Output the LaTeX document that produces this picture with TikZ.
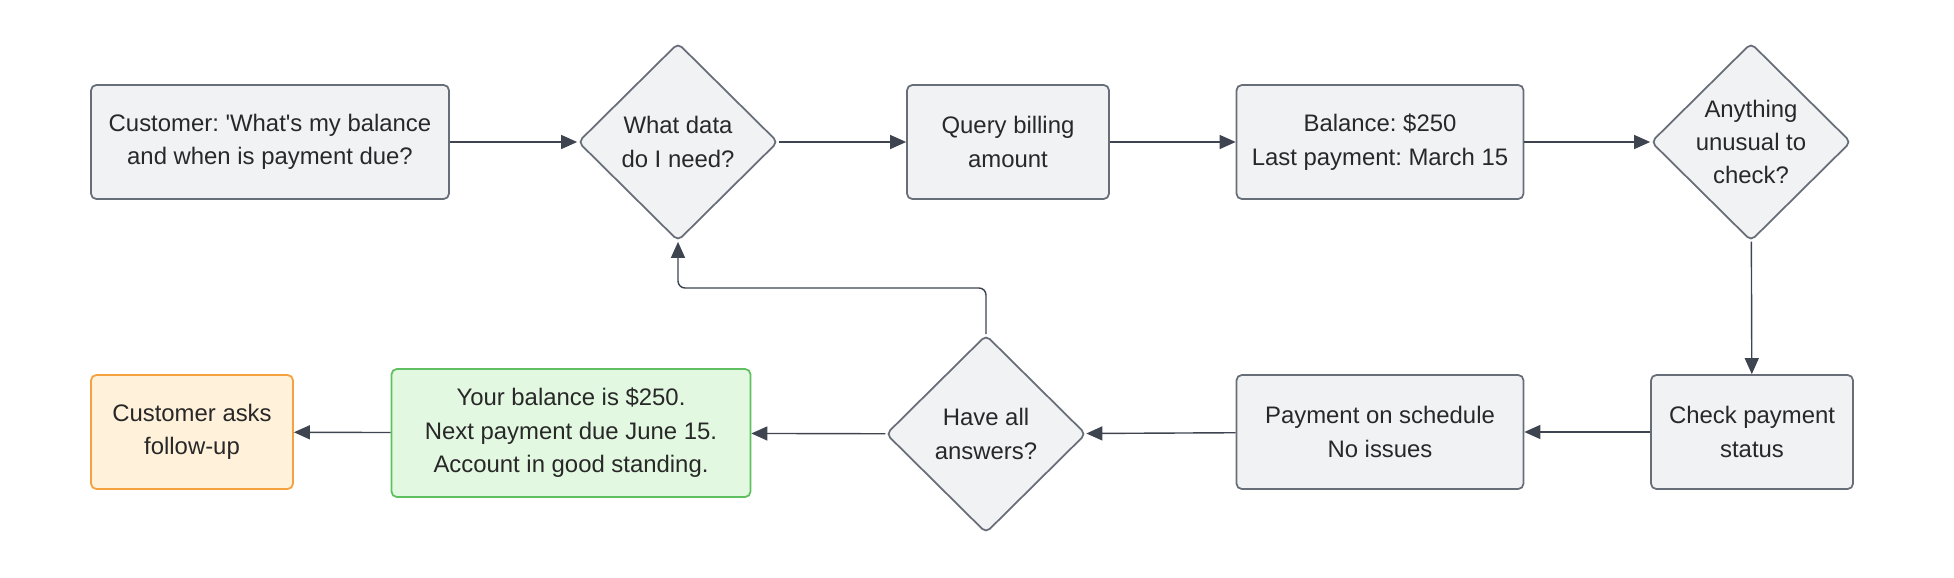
\documentclass[tikz,border=0pt]{standalone}
\usepackage{fontspec}
\usetikzlibrary{arrows.meta,positioning,shapes.geometric,calc}
\newfontfamily\diagfont{Liberation Sans}
\frenchspacing
\definecolor{boxgray}{RGB}{241,242,244}
\definecolor{boxgrayD}{RGB}{104,110,120}
\definecolor{arrowD}{RGB}{62,68,80}
\definecolor{ansgreen}{RGB}{226,248,224}
\definecolor{ansgreenD}{RGB}{94,192,94}
\definecolor{fuporange}{RGB}{255,241,218}
\definecolor{fuporangeD}{RGB}{246,160,62}
\definecolor{txtgray}{RGB}{40,40,40}
\tikzset{
  blk/.style={draw,rounded corners=3pt,align=center,inner sep=4pt,
              minimum height=2.28cm,font=\diagfont\fontsize{13.6}{19}\selectfont,
              text=txtgray,line width=1pt},
  proc/.style={blk,fill=boxgray,draw=boxgrayD},
  dec/.style={proc,shape=diamond,aspect=1,minimum width=4cm,minimum height=3.96cm,inner sep=0pt},
  ans/.style={blk,fill=ansgreen,draw=ansgreenD,minimum height=2.56cm},
  fup/.style={blk,fill=fuporange,draw=fuporangeD},
  arr/.style={-{Triangle[length=0.32cm,width=0.28cm]},line width=0.8pt,draw=arrowD},
}

\begin{document}
\begin{tikzpicture}[x=0.02cm,y=-0.02cm]
\useasboundingbox (0,0) rectangle (1954,578);
% top row
\node[proc,minimum width=7.16cm] (ask) at (270,142)
  {Customer: 'What's my balance\\ and when is payment due?};
\node[dec] (need) at (678,142) {What data\\ do I need?};
\node[proc,minimum width=4.04cm] (query) at (1008,142) {Query billing\\ amount};
\node[proc,minimum width=5.74cm] (bal) at (1380,142) {Balance: \$250\\ Last payment: March 15};
\node[dec] (odd) at (1751,142) {Anything\\ unusual to\\ check?};
% bottom row
\node[proc,minimum width=4.04cm] (check) at (1752,432) {Check payment\\ status};
\node[proc,minimum width=5.74cm] (sched) at (1380,432) {Payment on schedule\\ No issues};
\node[dec] (done) at (986,434) {Have all\\ answers?};
\node[ans,minimum width=7.18cm] (reply) at (571,433)
  {Your balance is \$250.\\ Next payment due June 15.\\ Account in good standing.};
\node[fup,minimum width=4.04cm] (follow) at (192,432) {Customer asks\\ follow-up};
\coordinate (loop) at (986,288);
\draw[arr] (ask) -- (need);
\draw[arr] (need) -- (query);
\draw[arr] (query) -- (bal);
\draw[arr] (bal) -- (odd);
\draw[arr] (odd) -- (check);
\draw[arr] (check) -- (sched);
\draw[arr] (sched) -- (done);
\draw[arr] (done) -- (reply);
\draw[arr] (reply) -- (follow);
\draw[arr,rounded corners=4pt] (done.north) |- (loop -| need.south) -- (need.south);
\end{tikzpicture}
\end{document}
